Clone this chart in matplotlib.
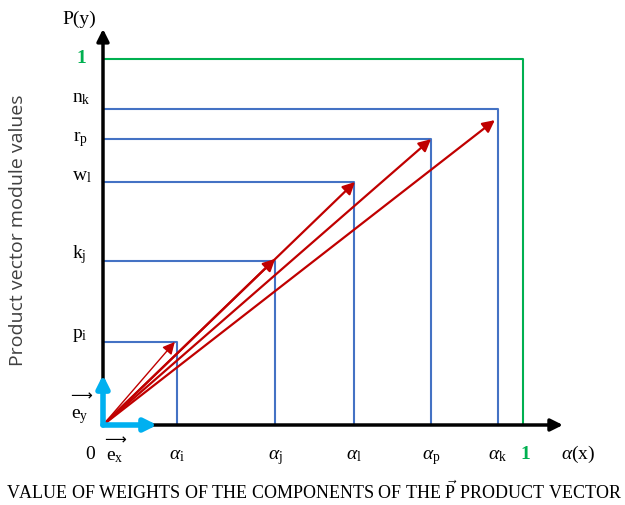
import matplotlib.pyplot as plt

plt.rcParams['mathtext.fontset'] = 'custom'
plt.rcParams['mathtext.rm'] = 'Liberation Serif'
plt.rcParams['mathtext.it'] = 'Liberation Serif:italic'

# weights on the x axis and module values on the y axis
alpha = [0.176, 0.41, 0.598, 0.781, 0.94]
alpha_names = ['i', 'j', 'l', 'p', 'k']
modules = [0.227, 0.448, 0.664, 0.781, 0.863]
module_names = [r'$\mathrm{p_i}$', r'$\mathrm{k_j}$', r'$\mathrm{w_l}$', r'$\mathrm{r_p}$', r'$\mathrm{n_k}$']
# ends of the product vectors
vec_x = [0.171, 0.41, 0.6, 0.781, 0.933]
vec_y = [0.227, 0.454, 0.664, 0.781, 0.833]
vec_lw = [1.0, 1.6, 1.6, 1.6, 1.6]

blue = '#4472C4'
green = '#00B050'
red = '#C00000'
cyan = '#00B0F0'
serif = 'Liberation Serif'
fs = 14

W, H = 625, 506
fig = plt.figure(figsize=(W / 100, H / 100), dpi=100)
ax = fig.add_axes([0, 0, 1, 1])
ox, oy, sx, sy = 103, 426, 420, 366
ax.set_xlim(-ox / sx, (W - ox) / sx)
ax.set_ylim((oy - H) / sy, oy / sy)
ax.axis('off')

def fx(p):
    return p / W

def fy(p):
    return 1 - p / H

# blue guide lines
for a, m in zip(alpha, modules):
    ax.plot([0, a, a], [m, m, 0], color=blue, lw=1.5, zorder=2)

# green unit square
ax.plot([0, 1, 1], [1, 1, 0], color=green, lw=1.5, zorder=2)

# axes with arrows
arr = dict(arrowstyle='-|>', color='black', lw=2.5, mutation_scale=18, shrinkA=0, shrinkB=0)
ax.annotate('', xy=(1.095, 0), xytext=(0, 0), arrowprops=arr, zorder=3)
ax.annotate('', xy=(0, 1.082), xytext=(0, 0), arrowprops=arr, zorder=3)

# product vectors
for x, y, lw in zip(vec_x, vec_y, vec_lw):
    ax.annotate('', xy=(x, y), xytext=(0, 0), zorder=4,
                arrowprops=dict(arrowstyle='-|>', color=red, lw=lw, mutation_scale=18,
                                shrinkA=0, shrinkB=0))

# unit vectors
cy = dict(arrowstyle='-|>', color=cyan, lw=4, mutation_scale=18, shrinkA=0, shrinkB=0)
ax.annotate('', xy=(0.129, 0), xytext=(0, 0), arrowprops=cy, zorder=5)
ax.annotate('', xy=(0, 0.137), xytext=(0, 0), arrowprops=cy, zorder=5)

# y labels (baseline positions in pixels)
ylab_pos = [(80, 338), (79, 258), (82, 180), (80, 141), (81, 102)]
for (px, py), name in zip(ylab_pos, module_names):
    fig.text(fx(px), fy(py), name, fontsize=fs, ha='center', va='baseline')
fig.text(fx(81), fy(63), '1', color=green, fontsize=fs, fontweight='bold', family=serif,
         ha='center', va='baseline')
fig.text(fx(79), fy(24), 'P(y)', fontsize=fs, family=serif, ha='center', va='baseline')

# x labels
for a, n in zip(alpha, alpha_names):
    ax.text(a, (oy - 459) / sy, r'$\alpha_\mathrm{%s}$' % n, fontsize=fs, ha='center', va='baseline')
fig.text(fx(525), fy(459), '1', color=green, fontsize=fs, fontweight='bold', family=serif,
         ha='center', va='baseline')
fig.text(fx(578), fy(459), r'$\alpha$(x)', fontsize=fs, family=serif, ha='center', va='baseline')
fig.text(fx(90), fy(459), '0', fontsize=fs, family=serif, ha='center', va='baseline')

# unit vector names
fig.text(fx(81), fy(396), '\u27f6', fontsize=11, family='DejaVu Sans', ha='center', va='center')
fig.text(fx(80), fy(418), r'$\mathrm{e_y}$', fontsize=fs, ha='center', va='baseline')
fig.text(fx(115), fy(440), '\u27f6', fontsize=11, family='DejaVu Sans', ha='center', va='center')
fig.text(fx(115), fy(460), r'$\mathrm{e_x}$', fontsize=fs, ha='center', va='baseline')

# axis titles
fig.text(fx(18), fy(230), 'Product vector module values', rotation=90, fontsize=14,
         family='Open Sans', color='#404040', ha='center', va='center')
fig.text(fx(314), fy(499), r'VALUE OF WEIGHTS OF THE COMPONENTS OF THE $\vec{\mathrm{P}}$ PRODUCT VECTOR',
         fontsize=13, family=serif, ha='center', va='baseline')

fig.savefig('out.png', dpi=100)
